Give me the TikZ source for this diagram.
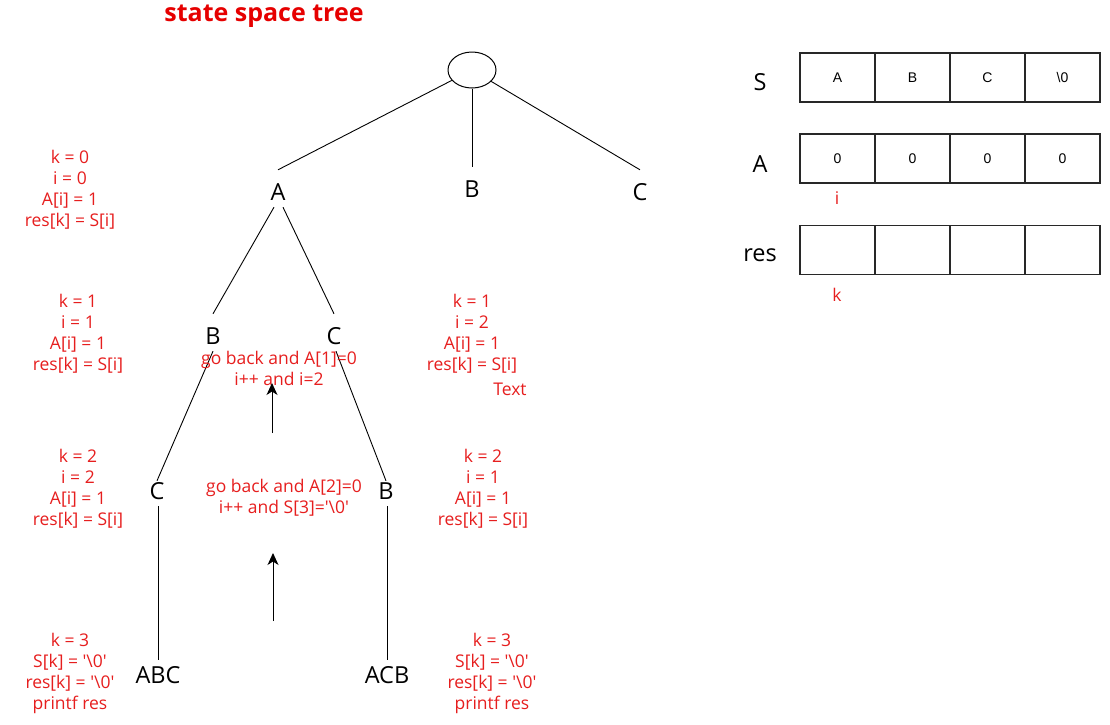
\documentclass[tikz,border=0pt]{standalone}
\usepackage{fontspec}
\setmainfont{Open Sans}
\newfontfamily\cellfont{Liberation Sans}
\usetikzlibrary{shapes.geometric,arrows.meta}
\definecolor{lblred}{RGB}{230,30,30}
\definecolor{ttlred}{RGB}{230,0,0}
\definecolor{bordergray}{RGB}{40,40,40}
\newcommand{\sq}{\textquotesingle}
\tikzset{
  letter/.style={inner sep=0pt, minimum height=30pt, font=\fontsize{23.5}{28}\selectfont},
  redlbl/.style={inner sep=0pt, align=center, text=lblred, font=\fontsize{17.5}{21}\selectfont},
  edge/.style={line width=0.9pt, black},
  cell/.style={draw=bordergray, line width=1.2pt, minimum width=75pt, minimum height=49pt, inner sep=0pt, font=\cellfont\fontsize{14}{16}\selectfont},
  uparrow/.style={line width=1pt, -{Stealth[length=12pt,width=11pt,inset=3.5pt]}},
}
\begin{document}
\begin{tikzpicture}[x=1pt,y=-1pt]
\useasboundingbox (0,0) rectangle (1110,724);
% title
\node[font=\fontsize{25}{30}\selectfont\bfseries, text=ttlred, inner sep=0pt] (title) at (264,16) {state space tree};
% tree
\node[draw, ellipse, line width=1pt, minimum width=48pt, minimum height=36pt, inner sep=0pt] (root) at (472,70) {};
\node[letter] (A1) at (278,192) {A};
\node[letter] (B1) at (472,189) {B};
\node[letter] (C1) at (640,192) {C};
\node[letter] (B2) at (213,336) {B};
\node[letter] (C2) at (334,336) {C};
\node[letter] (C3) at (157,491) {C};
\node[letter] (B3) at (386,491) {B};
\node[letter] (ABC) at (158,675) {ABC};
\node[letter] (ACB) at (387,675) {ACB};
\draw[edge] (root) -- ([yshift=7pt]A1.north);
\draw[edge] (root) -- ([yshift=7pt]B1.north);
\draw[edge] (root) -- ([yshift=7pt]C1.north);
\draw[edge] ([xshift=-4pt]A1.south) -- ([yshift=7pt]B2.north);
\draw[edge] ([xshift=5pt]A1.south) -- ([yshift=7pt]C2.north);
\draw[edge] (B2.south) -- ([yshift=-5pt]C3.north);
\draw[edge] ([xshift=2pt]C2.south) -- ([yshift=-5pt]B3.north);
\draw[edge] ([xshift=1pt]C3.south) -- (ABC.north);
\draw[edge] ([xshift=1pt]B3.south) -- (ACB.north);
% red notes
\node[redlbl] (n0) at (70,189.5) {k = 0\\i = 0\\A[i] = 1\\res[k] = S[i]};
\node[redlbl] (n1) at (78,334) {k = 1\\i = 1\\A[i] = 1\\res[k] = S[i]};
\node[redlbl] (n2) at (78,489) {k = 2\\i = 2\\A[i] = 1\\res[k] = S[i]};
\node[redlbl] (n3) at (70,673) {k = 3\\S[k] = \sq\textbackslash 0\sq\\res[k] = \sq\textbackslash 0\sq\\printf res};
\node[redlbl] (m1) at (472,334) {k = 1\\i = 2\\A[i] = 1\\res[k] = S[i]};
\node[redlbl] (txt) at (510,389) {Text};
\node[redlbl] (m2) at (483,489) {k = 2\\i = 1\\A[i] = 1\\res[k] = S[i]};
\node[redlbl] (m3) at (492,673) {k = 3\\S[k] = \sq\textbackslash 0\sq\\res[k] = \sq\textbackslash 0\sq\\printf res};
\node[redlbl] (g1) at (279,368) {go back and A[1]=0\\i++ and i=2};
\node[redlbl] (g2) at (284,498) {go back and A[2]=0\\i++ and S[3]=\sq\textbackslash 0\sq};
% arrows
\coordinate (t1) at (272,433);
\coordinate (h1) at (272,383);
\coordinate (t2) at (273,621);
\coordinate (h2) at (273,553);
\draw[uparrow] (t1) -- (h1);
\draw[uparrow] (t2) -- (h2);
% arrays
\node[letter] (Slbl) at (760,82) {S};
\node[letter] (Albl) at (760,164) {A};
\node[letter] (reslbl) at (760,255) {res};
\node[cell] (S1) at (837.5,77.5) {A};
\node[cell] (S2) at (912.5,77.5) {B};
\node[cell] (S3) at (987.5,77.5) {C};
\node[cell] (S4) at (1062.5,77.5) {\textbackslash 0};
\node[cell] (Ar1) at (837.5,158.5) {0};
\node[cell] (Ar2) at (912.5,158.5) {0};
\node[cell] (Ar3) at (987.5,158.5) {0};
\node[cell] (Ar4) at (1062.5,158.5) {0};
\node[cell] (R1) at (837.5,250) {};
\node[cell] (R2) at (912.5,250) {};
\node[cell] (R3) at (987.5,250) {};
\node[cell] (R4) at (1062.5,250) {};
\node[redlbl] (ilbl) at (837,198) {i};
\node[redlbl] (klbl) at (837,295) {k};
\end{tikzpicture}
\end{document}
